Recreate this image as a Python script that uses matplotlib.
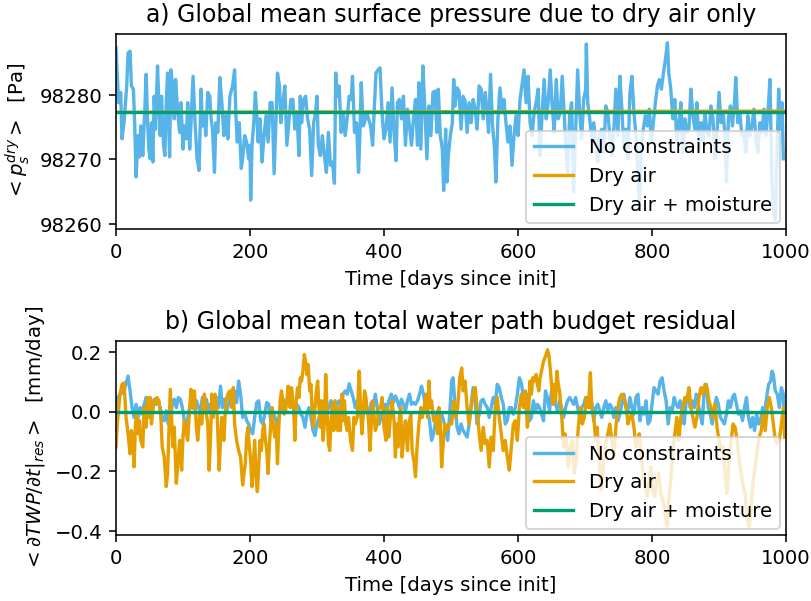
import numpy as np
import matplotlib
matplotlib.use("Agg")
import matplotlib.pyplot as plt

# ---------------------------------------------------------------------------
# Panel a: global mean dry-air surface pressure, stored as anomaly from 98280 Pa
# ---------------------------------------------------------------------------
PS_REF = 98280.0

ps_days_nocon = [
    0, 4, 7, 9, 12, 16, 18, 21, 23, 26,
    28, 30, 33, 35, 37, 40, 43, 45, 47, 49,
    51, 53, 55, 57, 59, 62, 64, 66, 68, 71,
    73, 75, 77, 80, 82, 84, 87, 89, 92, 95,
    97, 100, 102, 105, 107, 110, 112, 115, 118, 121,
    124, 127, 129, 132, 134, 137, 140, 142, 144, 147,
    149, 152, 155, 158, 161, 164, 167, 170, 174, 177,
    179, 181, 184, 187, 189, 192, 195, 198, 200, 201,
    203, 206, 208, 210, 212, 215, 218, 221, 224, 227,
    230, 233, 236, 239, 241, 244, 246, 249, 252, 255,
    258, 261, 264, 267, 270, 273, 275, 277, 280, 283,
    286, 289, 292, 295, 298, 300, 302, 305, 308, 311,
    314, 317, 320, 323, 326, 328, 330, 333, 336, 339,
    342, 345, 348, 351, 353, 356, 359, 362, 364, 366,
    369, 371, 374, 377, 380, 383, 386, 388, 391, 394,
    397, 400, 403, 406, 409, 412, 415, 418, 420, 423,
    426, 429, 432, 435, 438, 441, 444, 447, 450, 452,
    455, 458, 461, 464, 467, 470, 473, 476, 479, 481,
    484, 487, 489, 492, 494, 496, 499, 502, 504,
    506, 509, 512, 515, 518, 521, 524, 527, 530, 533,
    536, 539, 542, 545, 548, 551, 554, 556, 559, 562,
    565, 567, 570, 573, 576, 579, 582, 585, 588, 591,
    594, 597, 600, 603, 606, 609, 612, 615, 618, 621,
    624, 627, 630, 633, 636, 639, 642, 645, 648, 651,
    654, 657, 660, 663, 666, 668, 671, 674, 677, 680,
    683, 686, 689, 692, 695, 698, 701, 702, 704, 707,
    710, 713, 716, 719, 722, 725, 728, 731, 734, 737,
    740, 743, 746, 749, 752, 755, 758, 761, 764, 767,
    770, 773, 776, 779, 781, 784, 787, 790, 793, 796,
    799, 802, 805, 808, 811, 814, 817, 820, 823, 825,
    828, 831, 834, 837, 840, 843, 846, 849, 852, 855,
    858, 861, 864, 867, 870, 873, 876, 879, 882, 885,
    888, 891, 894, 897, 900, 903, 906, 909, 911, 914,
    917, 920, 923, 925, 928, 931, 934, 937, 940, 943,
    946, 949, 952, 955, 958, 961, 964, 967, 970, 973,
    976, 979, 982, 984, 987, 989, 991, 994, 996,
]

ps_anom_nocon = [
    7.3, -1.2, 0.4, -6.8, -4.3, 1.4, 6.5, 6.8, 1.4, 0.9,
    -4.8, -12.7, -6.3, -9.6, -4.8, -9.4, -2.2, 3.2, -3.7, -8.4,
    -9.9, -4.3, -10.4, -0.2, -5.3, 4.5, -1.2, -6.3, -0.2, -7.8,
    -9.4, -1.2, 3.4, -9.6, 3.9, 1.9, -3.7, 2.4, -2.5, -5.8,
    -1.2, -8.4, -4.8, -6.8, -1.2, -8.4, -4.3, 2.9, -4.3, -9.9,
    -11.7, 0.9, -4.8, -3.2, -6.3, 0.4, -0.2, -3.7, -5.3, -12.0,
    -4.3, -5.8, 2.7, -1.2, -6.3, -3.2, -6.8, -0.2, 1.4, 3.9,
    -3.2, -7.3, -4.3, -11.4, -9.9, -6.3, -7.3, -9.9, -7.8, -16.3,
    -7.8, -3.7, 0.4, -2.7, -7.3, -3.7, -10.4, -6.3, -3.2, -7.3,
    -1.2, -1.2, -12.2, -3.2, 3.4, 1.4, -4.3, -1.2, 1.4, -7.8,
    -4.3, -0.7, -0.7, -5.3, -2.7, -9.4, -0.2, -4.3, -0.7, -0.2,
    -3.7, -5.3, -12.5, -4.3, -2.7, -0.2, -7.8, -9.4, -6.3, -9.4,
    -12.0, -5.8, -10.9, -10.4, -13.7, 3.4, -0.2, 1.4, -5.8, -2.7,
    -6.3, -3.7, -0.2, -0.7, 2.9, -5.8, -4.3, -12.0, -6.3, 1.9,
    -4.8, -4.3, -2.7, -3.7, -4.8, -7.8, -1.2, 3.4, 3.9, 4.2,
    -2.7, -6.8, -5.3, -1.2, -7.3, 1.1, -5.8, -10.2, -1.2, -0.7,
    -3.7, -0.2, -7.8, -2.2, -4.8, -7.8, -3.7, -0.7, -7.8, 1.9,
    -8.4, 4.5, -2.2, -9.9, -1.7, -6.3, 0.4, 0.6, -5.8, 0.9,
    -6.3, -8.4, -14.8, -5.3, -13.5, -9.4, -6.3, -4.3, 2.4,
    -1.7, 1.1, 0.6, -5.3, -0.2, -0.9, -5.8, -1.2, -4.3, -0.7,
    -2.2, -5.3, 1.4, 0.9, -3.7, 0.4, -2.7, -5.8, 3.2, -4.8,
    -8.4, -13.5, -3.7, 1.1, -2.2, -0.7, -4.3, -7.3, -4.8, -10.9,
    -6.3, -3.2, -6.3, -0.7, 1.6, 3.9, -1.2, 2.9, -4.3, -6.3,
    -2.7, -1.2, 0.9, -9.4, -2.7, 2.4, -3.7, -1.2, 3.9, -1.7,
    -5.8, 2.4, -3.7, -2.7, 2.9, -1.2, -7.3, -12.0, -3.2, -1.2,
    -15.0, -5.3, 3.9, -2.7, -6.8, -0.7, 0.9, 7.9, -1.2, -3.7,
    -6.8, -4.3, -7.3, -10.4, -6.3, -5.3, -8.9, -1.7, -2.7, -6.3,
    -9.4, -5.3, 0.9, -6.3, 2.9, -2.2, -8.4, -5.3, -9.9, 0.4,
    2.9, -2.7, -6.3, -12.5, -17.1, -7.8, -5.3, -3.2, -4.8, -2.2,
    -7.3, -4.3, -1.2, 1.4, 2.4, 0.9, 3.4, 5.5, 8.1, 3.4,
    0.9, -3.7, -0.7, -7.3, -4.8, -1.2, -8.9, -3.7, -5.8, -5.3,
    0.9, -3.2, -5.3, -1.2, -8.4, -4.3, -7.3, -2.7, -5.8, -6.3,
    -1.7, -3.7, -9.9, -5.8, 0.4, -4.3, -2.7, -6.3, -13.5, -3.7,
    -1.7, -4.8, -1.2, 2.7, -4.3, -2.7, -6.3, -5.8, -8.9, -3.2,
    -6.3, -4.8, -2.2, -6.8, -8.9, -4.3, -5.8, -2.2, -6.3, -2.7,
    2.4, -13.5, -18.6, -19.4, -7.3, 0.9, -5.3, -1.2, -9.9,
]

# Constrained runs: nearly constant dry-air mass
ps_days_dry = [0, 500, 1000]
ps_dry = [98277.3, 98277.4, 98277.5]
ps_days_drymoist = [0, 1000]
ps_drymoist = [98277.3, 98277.3]

# ---------------------------------------------------------------------------
# Panel b: global mean total water path budget residual [mm/day]
# ---------------------------------------------------------------------------
twp_days_nocon = np.concatenate([
    [0, 2, 7, 12], np.arange(18, 499, 3), [501, 503],
    np.arange(506, 978, 3), [979, 981, 984, 987, 990, 993, 996, 998],
])
twp_nocon = [
    0.014, 0.048, 0.059, 0.070,
    0.120, 0.070, 0.014, -0.019, 0.025, -0.019, 0.014, -0.008, 0.025, 0.048,
    0.003, 0.025, -0.002, 0.042, 0.025, 0.037, 0.014, -0.024, -0.030, 0.003,
    -0.041, -0.030, 0.025, 0.042, 0.014, 0.048, 0.042, 0.014, -0.030, -0.052,
    -0.008, 0.025, 0.014, 0.009, 0.037, 0.014, 0.003, 0.048, 0.014, 0.042,
    0.003, 0.025, 0.031, 0.014, 0.048, 0.014, 0.086, 0.014, 0.042, 0.003,
    0.025, 0.053, 0.031, 0.070, 0.031, 0.103, 0.059, -0.019, -0.002, -0.030,
    -0.041, -0.063, -0.074, -0.019, 0.031, 0.037, -0.030, -0.041, -0.008, 0.031,
    0.025, -0.030, 0.003, -0.019, -0.035, -0.019, 0.014, 0.042, 0.037, 0.025,
    0.042, 0.059, 0.014, 0.003, 0.025, 0.014, -0.008, -0.019, -0.052, -0.008,
    0.014, -0.019, -0.063, -0.080, -0.041, -0.019, -0.030, -0.008, -0.013, 0.003,
    0.014, 0.037, 0.025, 0.014, 0.025, 0.037, 0.014, 0.059, 0.070, 0.059,
    0.094, 0.070, 0.048, 0.014, 0.037, 0.003, -0.019, -0.008, 0.025, 0.009,
    -0.008, 0.031, 0.014, 0.059, 0.014, -0.041, -0.008, -0.030, 0.025, 0.014,
    0.042, 0.059, 0.031, 0.053, 0.037, 0.014, 0.042, 0.025, 0.003, 0.037,
    0.059, 0.025, 0.031, 0.025, 0.037, 0.059, 0.086, 0.059, 0.014, 0.003,
    -0.030, -0.096, -0.074, -0.030, 0.003, -0.024, -0.008, -0.030, -0.063, -0.096,
    -0.008,
    0.103, 0.114,
    0.025, -0.052, -0.074, -0.041, -0.063, -0.074, -0.085, -0.041, 0.025, 0.081,
    0.037, -0.041, -0.008, 0.037, 0.042, 0.025, 0.014, -0.019, 0.014, 0.048,
    0.025, 0.092, 0.081, 0.048, 0.025, -0.041, -0.030, 0.014, 0.014, -0.008,
    0.014, 0.059, 0.114, 0.097, 0.048, 0.014, 0.059, -0.030, -0.019, 0.037,
    0.003, 0.025, 0.014, -0.008, -0.030, 0.070, 0.048, 0.003, 0.070, 0.059,
    0.025, 0.003, 0.037, 0.014, -0.019, 0.014, 0.037, 0.048, 0.037, 0.025,
    0.048, 0.014, -0.019, 0.014, 0.025, 0.048, 0.020, 0.014, 0.031, -0.030,
    0.014, 0.025, 0.003, -0.019, 0.014, 0.037, 0.003, 0.025, 0.014, -0.019,
    0.014, -0.030, -0.008, 0.025, 0.059, 0.014, 0.003, 0.048, 0.014, -0.008,
    0.048, 0.059, -0.030, 0.014, -0.008, 0.037, -0.041, -0.030, 0.025, 0.081,
    0.070, 0.059, 0.103, 0.114, 0.070, 0.037, -0.041, 0.014, 0.003, 0.048,
    0.025, 0.014, 0.037, -0.008, -0.041, 0.037, 0.059, 0.014, 0.037, 0.014,
    0.059, 0.025, -0.008, -0.041, 0.081, 0.092, 0.014, -0.008, -0.041, 0.014,
    0.048, 0.025, -0.019, -0.030, -0.041, -0.008, 0.037, 0.014, 0.048, 0.059,
    0.025, -0.008, 0.003, -0.030, 0.014, 0.048, -0.019, -0.052, -0.019, -0.063,
    -0.008, -0.041, -0.030, 0.014, -0.008, 0.048, 0.092, 0.103,
    0.136, 0.125, 0.070, 0.059, 0.014, 0.081, 0.059, -0.074,
]

twp_days_dry = [
    0, 2, 6, 9, 12, 15, 18, 21, 23, 25,
    27, 29, 31, 33, 35, 37, 40, 42, 45, 47,
    49, 51, 53, 56, 58, 61, 64, 67, 69, 72,
    75, 77, 79, 81, 83, 85, 87, 90, 92, 95,
    98, 100, 102, 105, 107, 110, 112, 115, 117, 120,
    122, 125, 128, 130, 132, 135, 137, 139, 141, 143,
    145, 148, 151, 154, 156, 158, 161, 164, 167, 170,
    173, 175, 177, 180, 183, 186, 189, 191, 193, 195,
    197, 199, 201, 203, 205, 207, 209, 211, 213, 215,
    217, 219, 221, 223, 225, 227, 229, 231, 233, 235,
    237, 239, 241, 243, 245, 247, 249, 251, 253, 255,
    257, 260, 262, 265, 267, 269, 271, 273, 275, 277,
    279, 281, 283, 285, 287, 289, 291, 293, 295, 297,
    299, 301, 303, 305, 307, 309, 311, 313, 315, 317,
    319, 321, 323, 325, 327, 329, 331, 333, 335, 337,
    339, 341, 343, 345, 347, 350, 353, 355, 357, 360,
    363, 365, 367, 369, 371, 373, 375, 377, 379, 381,
    383, 385, 387, 390, 392, 395, 397, 400, 403, 405,
    407, 410, 412, 415, 417, 419, 421, 423, 425, 427,
    430, 432, 435, 437, 440, 442, 445, 447, 449, 452,
    455, 457, 460, 463, 465, 467, 469, 471, 474, 477,
    480, 482, 484, 486, 489, 491, 494, 497,
    501, 504, 507, 510, 513, 516, 518, 521, 524, 527,
    530, 533, 536, 539, 542, 545, 548, 551, 554, 557,
    560, 563, 566, 569, 572, 575, 578, 581, 584, 587,
    590, 593, 596, 599, 602, 605, 608, 611, 614, 616,
    618, 620, 622, 624, 627, 629, 631, 633, 636, 638,
    640, 642, 644, 646, 648, 650, 652, 654, 656, 658,
    660, 662, 664, 666, 668, 670, 672, 675, 678, 681,
    684, 687, 690, 693, 696, 699, 702, 705, 708, 710,
    713, 716, 718, 721, 724, 726, 728, 731, 734, 737,
    740, 743, 746, 749, 752, 755, 758, 761, 764, 767,
    770, 773, 776, 778, 781, 784, 787, 790, 793, 796,
    798, 801, 804, 807, 810, 813, 816, 818, 821, 823,
    825, 828, 831, 834, 837, 840, 843, 846, 849, 852,
    855, 858, 861, 864, 867, 870, 873, 876, 879, 882,
    885, 888, 891, 894, 897, 900, 903, 906, 909, 912,
    915, 918, 921, 924, 927, 930, 933, 936, 939, 942,
    945, 948, 951, 954, 957, 960, 963, 966, 969, 972,
    975, 978, 981, 984, 987, 990, 993, 996, 998,
]
twp_dry = [
    -0.118, -0.041, 0.059, 0.092, 0.097, -0.019, -0.074, -0.141, -0.063, -0.096,
    -0.185, -0.041, -0.008, -0.074, -0.030, -0.096, -0.118, 0.014, -0.052, 0.048,
    -0.019, 0.048, -0.041, 0.037, 0.025, 0.048, 0.037, -0.019, -0.118, -0.152,
    -0.251, -0.207, -0.063, 0.075, -0.019, -0.118, -0.052, -0.240, -0.185, -0.096,
    -0.196, -0.085, -0.030, -0.074, -0.096, 0.014, 0.075, 0.014, 0.070, -0.052,
    -0.096, -0.008, -0.041, 0.037, 0.059, -0.008, -0.041, -0.196, -0.096, 0.059,
    -0.019, 0.059, -0.008, -0.196, -0.096, -0.019, -0.096, 0.037, 0.059, 0.070,
    0.014, 0.081, -0.041, -0.096, -0.130, -0.152, -0.246, -0.207, -0.174, -0.085,
    -0.052, -0.118, -0.163, -0.251, -0.174, -0.096, -0.218, -0.268, -0.185, -0.096,
    -0.130, -0.063, -0.041, -0.096, -0.130, -0.207, -0.107, -0.041, 0.014, -0.052,
    -0.085, -0.041, -0.174, -0.052, 0.037, 0.070, 0.037, -0.008, 0.003, 0.037,
    0.086, 0.014, 0.081, 0.014, -0.096, 0.037, 0.081, 0.048, 0.114, 0.103,
    0.136, 0.192, 0.169, 0.125, 0.158, 0.070, 0.092, -0.019, -0.052, 0.014,
    0.070, 0.103, 0.014, -0.052, 0.037, -0.096, -0.041, 0.125, 0.014, -0.107,
    -0.130, -0.030, 0.025, -0.063, 0.037, -0.041, -0.063, 0.014, -0.063, 0.059,
    -0.030, 0.037, -0.041, -0.063, -0.019, -0.096, -0.130, -0.019, -0.041, -0.019,
    0.136, 0.014, -0.074, -0.008, 0.070, 0.048, 0.003, -0.030, -0.130, -0.041,
    0.037, -0.008, -0.063, -0.041, 0.014, 0.014, 0.048, -0.052, -0.096, 0.014,
    -0.085, -0.008, 0.037, -0.030, -0.152, -0.041, -0.118, -0.019, 0.014, -0.152,
    -0.063, -0.030, -0.130, -0.041, -0.008, -0.130, -0.174, -0.218, -0.130, -0.041,
    0.014, -0.019, 0.014, 0.059, -0.019, 0.103, 0.014, 0.037, -0.030, -0.019,
    -0.074, 0.014, -0.041, -0.185, -0.085, -0.041, -0.063, -0.041,
    -0.041, 0.037, -0.019, 0.014, 0.114, 0.147, 0.070, 0.103, 0.014, -0.041,
    0.014, 0.059, 0.081, 0.014, -0.074, -0.130, -0.052, -0.107, -0.096, -0.185,
    -0.085, -0.130, 0.014, 0.048, -0.019, -0.074, -0.130, -0.096, -0.152, -0.196,
    -0.118, -0.041, -0.030, -0.096, 0.014, 0.059, 0.014, 0.070, -0.052, 0.014,
    0.103, 0.059, 0.114, 0.103, 0.125, 0.092, 0.070, 0.114, 0.147, 0.169,
    0.181, 0.192, 0.208, 0.192, 0.147, 0.092, 0.025, 0.092, 0.037, 0.136,
    0.092, 0.070, 0.014, -0.041, -0.118, -0.074, -0.096, -0.185, -0.118, -0.096,
    -0.207, -0.152, -0.052, 0.014, -0.041, -0.019, 0.048, 0.014, 0.131, 0.014,
    -0.019, -0.096, -0.052, -0.152, -0.262, -0.229, -0.152, -0.107, -0.074, -0.041,
    -0.096, -0.152, -0.052, 0.014, 0.048, 0.059, 0.048, 0.025, -0.041, -0.019,
    -0.008, -0.052, -0.118, -0.096, -0.074, -0.152, -0.218, -0.251, -0.285, -0.229,
    -0.185, -0.262, -0.285, -0.229, -0.207, -0.274, -0.296, -0.318, -0.368, -0.384,
    -0.296, -0.229, -0.130, -0.074, -0.019, -0.096, -0.019, 0.014, 0.048, 0.037,
    0.081, 0.014, -0.019, -0.052, -0.019, 0.048, 0.081, 0.059, 0.092, 0.081,
    0.037, 0.014, -0.019, 0.025, -0.052, -0.096, -0.130, -0.118, -0.207, -0.274,
    -0.163, -0.096, -0.041, -0.052, -0.096, -0.163, -0.207, -0.251, -0.274, -0.362,
    -0.384, -0.318, -0.229, -0.185, -0.130, -0.085, -0.063, -0.008, -0.063, 0.014,
    0.048, 0.014, -0.041, -0.096, -0.107, -0.096, -0.041, 0.014, -0.085,
]

twp_days_drymoist = [0, 1000]
twp_drymoist = [0.0, 0.0]

# ---------------------------------------------------------------------------
# Styling
# ---------------------------------------------------------------------------
C_NOCON = "#56B4E9"
C_DRY = "#E69F00"
C_DRYMOIST = "#009E73"
LABELS = ["No constraints", "Dry air", "Dry air + moisture"]
LW = 1.7

plt.rcParams["font.family"] = ["DejaVu Sans"]
plt.rcParams["font.size"] = 10

fig = plt.figure(figsize=(5.712, 4.233), dpi=142)
ax_a = fig.add_axes([0.1430, 0.6190, 0.8261, 0.3245])
ax_b = fig.add_axes([0.1430, 0.1098, 0.8261, 0.3228])

# Panel a
ax_a.plot(ps_days_nocon, PS_REF + np.asarray(ps_anom_nocon), color=C_NOCON,
          lw=LW, label=LABELS[0])
ax_a.plot(ps_days_dry, ps_dry, color=C_DRY, lw=LW, label=LABELS[1])
ax_a.plot(ps_days_drymoist, ps_drymoist, color=C_DRYMOIST, lw=LW,
          label=LABELS[2])
ax_a.set_xlim(0, 1000)
ax_a.set_yticks([98260, 98270, 98280])
ax_a.ticklabel_format(axis="y", useOffset=False, style="plain")
ax_a.set_title("a) Global mean surface pressure due to dry air only",
               fontsize=12)
ax_a.set_xlabel("Time [days since init]")
ax_a.set_ylabel(r"$<p_s^{dry}>$  [Pa]")
ax_a.legend(loc="lower right", borderaxespad=0.3)

# Panel b
ax_b.plot(twp_days_nocon, twp_nocon, color=C_NOCON, lw=LW, label=LABELS[0])
ax_b.plot(twp_days_dry, twp_dry, color=C_DRY, lw=LW, label=LABELS[1])
ax_b.plot(twp_days_drymoist, twp_drymoist, color=C_DRYMOIST, lw=LW,
          label=LABELS[2])
ax_b.set_xlim(0, 1000)
ax_b.set_yticks([-0.4, -0.2, 0.0, 0.2])
ax_b.set_title("b) Global mean total water path budget residual", fontsize=12)
ax_b.set_xlabel("Time [days since init]")
ax_b.set_ylabel(r"$<\partial TWP/\partial t|_{res}>$  [mm/day]")
ax_b.legend(loc="lower right", borderaxespad=0.3)

fig.savefig("out.png", dpi=142)
